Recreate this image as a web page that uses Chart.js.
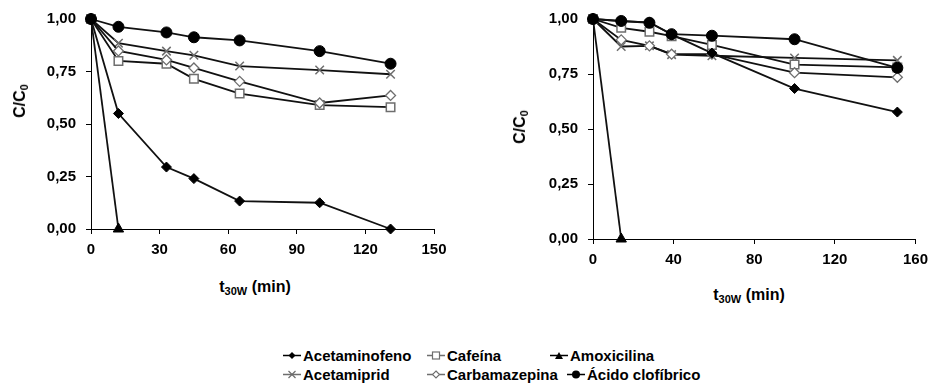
<!DOCTYPE html>
<html><head><meta charset="utf-8">
<script src="https://cdn.jsdelivr.net/npm/chart.js@4.4.1/dist/chart.umd.min.js"></script>
<style>
html,body{margin:0;padding:0;background:#fff;}
body{width:935px;height:385px;position:relative;overflow:hidden;font-family:"Liberation Sans",Arial,sans-serif;font-weight:bold;color:#000;}
canvas{position:absolute;top:0;}
#c1{left:0;}
#c2{left:500px;}
.title{position:absolute;font-size:16px;white-space:nowrap;line-height:1;}
.title sub{font-size:11px;vertical-align:-3px;line-height:0;}
.ytitle{transform:translate(-50%,-50%) rotate(-90deg);}
.xtitle{transform:translate(-50%,-50%);}
.leg{position:absolute;font-size:15px;white-space:nowrap;line-height:1;display:flex;align-items:center;transform:translateY(-50%);}
.leg svg{margin-right:2px;}
</style>
</head><body>
<canvas id="c1" width="460" height="262"></canvas>
<canvas id="c2" width="435" height="272"></canvas>
<div class="title ytitle" style="left:20px;top:101px;">C/C<sub>0</sub></div>
<div class="title ytitle" style="left:520px;top:127px;">C/C<sub>0</sub></div>
<div class="title xtitle" style="left:255px;top:287px;">t<sub>30W</sub> (min)</div>
<div class="title xtitle" style="left:749px;top:295px;">t<sub>30W</sub> (min)</div>
<div id="legend"></div>
<script>
// ---- data ----
const seriesNames = ["Acetaminofeno", "Cafeína", "Amoxicilina", "Acetamiprid", "Carbamazepina", "Ácido clofíbrico"];

// left panel
const timeLeft = [0, 12, 33, 45, 65, 100, 131];
const timeLeftAmox = [0, 12];
const leftAcetaminofeno = [1.00, 0.55, 0.295, 0.24, 0.133, 0.125, 0.00];
const leftCafeina = [1.00, 0.80, 0.787, 0.715, 0.645, 0.59, 0.58];
const leftAmoxicilina = [1.00, 0.00];
const leftAcetamiprid = [1.00, 0.885, 0.847, 0.827, 0.776, 0.757, 0.737];
const leftCarbamazepina = [1.00, 0.848, 0.805, 0.767, 0.703, 0.60, 0.636];
const leftClofibrico = [1.00, 0.963, 0.936, 0.913, 0.898, 0.847, 0.787];

// right panel
const timeRight = [0, 14, 28, 39, 59, 100, 151];
const timeRightAmox = [0, 14];
const rightAcetaminofeno = [1.00, 0.99, 0.985, 0.93, 0.845, 0.684, 0.577];
const rightCafeina = [1.00, 0.96, 0.942, 0.922, 0.882, 0.793, 0.78];
const rightAmoxicilina = [1.00, 0.00];
const rightAcetamiprid = [1.00, 0.875, 0.878, 0.838, 0.833, 0.823, 0.812];
const rightCarbamazepina = [1.00, 0.905, 0.878, 0.84, 0.84, 0.756, 0.735];
const rightClofibrico = [1.00, 0.991, 0.983, 0.931, 0.924, 0.908, 0.778];

const leftXTicks = [0, 30, 60, 90, 120, 150];
const rightXTicks = [0, 40, 80, 120, 160];
const yTicks = [0, 0.25, 0.5, 0.75, 1.0];

// ---- styles ----
const GRAY = '#6e6e6e';
const styles = [
  {pointStyle:'rectRot', pointRadius:5, pointBackgroundColor:'#000', pointBorderColor:'#000', pointBorderWidth:1, order:1},
  {pointStyle:'rect', pointRadius:6, pointBackgroundColor:'#fff', pointBorderColor:GRAY, pointBorderWidth:1.5, order:4},
  {pointStyle:'triangle', pointRadius:6, pointBackgroundColor:'#000', pointBorderColor:'#000', pointBorderWidth:1, order:2},
  {pointStyle:'crossRot', pointRadius:6, pointBackgroundColor:'#fff', pointBorderColor:GRAY, pointBorderWidth:1.5, order:5},
  {pointStyle:'rectRot', pointRadius:5, pointBackgroundColor:'#fff', pointBorderColor:GRAY, pointBorderWidth:1.3, order:3},
  {pointStyle:'circle', pointRadius:5.5, pointBackgroundColor:'#000', pointBorderColor:'#000', pointBorderWidth:1, order:0}
];

function pts(xs, ys){ return ys.map((y,i)=>({x:xs[i], y:y})); }

function makeDatasets(sets){
  return sets.map((s,i)=>Object.assign({
    label: seriesNames[i],
    data: pts(s[0], s[1]),
    borderColor:'#111', borderWidth:1.8, fill:false, tension:0, clip:false
  }, styles[i], {pointHoverRadius: styles[i].pointRadius}));
}

function makeChart(id, datasets, xTicks, xMax, pad, yWidth, xHeight){
  const fontT = {family:'"Liberation Sans", Arial, sans-serif', size:15, weight:'bold'};
  return new Chart(document.getElementById(id), {
    type:'line',
    data:{datasets},
    options:{
      responsive:false, animation:false,
      layout:{padding:pad},
      plugins:{legend:{display:false}, tooltip:{enabled:false}},
      scales:{
        x:{type:'linear', min:0, max:xMax,
          afterBuildTicks:(s)=>{s.ticks = xTicks.map(v=>({value:v}));},
          afterFit:(s)=>{s.height = xHeight;},
          ticks:{color:'#000', font:fontT, padding:7, maxRotation:0, callback:(v)=>String(v)},
          grid:{display:true, drawOnChartArea:false, drawTicks:true, tickLength:5, color:'#000', lineWidth:1},
          border:{display:true, color:'#000', width:1}
        },
        y:{type:'linear', min:0, max:1,
          afterBuildTicks:(s)=>{s.ticks = yTicks.map(v=>({value:v}));},
          afterFit:(s)=>{s.width = yWidth;},
          ticks:{color:'#000', font:fontT, padding:10, callback:(v)=>Number(v).toFixed(2).replace('.',',')},
          grid:{display:true, drawOnChartArea:false, drawTicks:true, tickLength:5, color:'#000', lineWidth:1},
          border:{display:true, color:'#000', width:1}
        }
      }
    }
  });
}

makeChart('c1', makeDatasets([
  [timeLeft, leftAcetaminofeno],
  [timeLeft, leftCafeina],
  [timeLeftAmox, leftAmoxicilina],
  [timeLeft, leftAcetamiprid],
  [timeLeft, leftCarbamazepina],
  [timeLeft, leftClofibrico]
]), leftXTicks, 150, {left:0, top:19, right:26, bottom:0}, 91, 33);

makeChart('c2', makeDatasets([
  [timeRight, rightAcetaminofeno],
  [timeRight, rightCafeina],
  [timeRightAmox, rightAmoxicilina],
  [timeRight, rightAcetamiprid],
  [timeRight, rightCarbamazepina],
  [timeRight, rightClofibrico]
]), rightXTicks, 160, {left:0, top:15, right:17, bottom:0}, 93, 33);

// ---- legend (HTML, real text) ----
const markerSvg = [
  '<polygon points="9,1.5 12.5,5 9,8.5 5.5,5" fill="#000"/>',
  '<rect x="5.5" y="1.5" width="7" height="7" fill="#fff" stroke="#6e6e6e" stroke-width="1.2"/>',
  '<polygon points="9,1.5 13,8.5 5,8.5" fill="#000"/>',
  '<path d="M5.5,1.5 L12.5,8.5 M12.5,1.5 L5.5,8.5" stroke="#6e6e6e" stroke-width="1.2"/>',
  '<polygon points="9,1.5 12.5,5 9,8.5 5.5,5" fill="#fff" stroke="#6e6e6e" stroke-width="1.1"/>',
  '<circle cx="9" cy="5" r="4" fill="#000"/>'
];
const legendPos = [[283,355],[427,355],[550,355],[283,374],[427,374],[567,374]];
const legend = document.getElementById('legend');
seriesNames.forEach((name,i)=>{
  const d = document.createElement('div');
  d.className = 'leg';
  d.style.left = legendPos[i][0] + 'px';
  d.style.top = legendPos[i][1] + 'px';
  const lineColor = (i===1||i===3||i===4) ? '#6e6e6e' : '#000';
  d.innerHTML = '<svg width="18" height="10" viewBox="0 0 18 10"><line x1="0" y1="5" x2="18" y2="5" stroke="'+lineColor+'" stroke-width="1.4"/>' + markerSvg[i] + '</svg><span>' + name + '</span>';
  legend.appendChild(d);
});
</script>
</body></html>
